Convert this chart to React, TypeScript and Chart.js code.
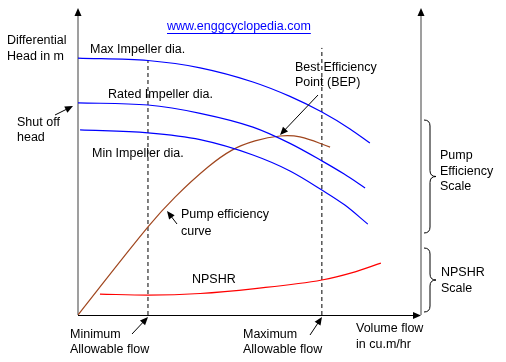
import React, { useEffect, useRef } from "react";
import { Chart, registerables } from "chart.js";

Chart.register(...registerables);

// Flow axis in % of scale (0..100), head / efficiency / NPSHR in % of scale (0..100)
const maxFlow = [0, 20.4, 35.6, 51, 61.8, 71.1, 79.3, 85.1];
const maxHead = [83.7, 82.9, 80.5, 75.9, 71.2, 66.1, 60.6, 56.0];

const ratedFlow = [0, 20.4, 35.6, 51, 61.8, 71.1, 77.6, 83.7];
const ratedHead = [69.1, 68.4, 65.7, 61.2, 55.9, 50.2, 45.9, 41.4];

const minFlow = [0.6, 20.4, 35.6, 51, 61.8, 71.1, 77.8, 84.5];
const minHead = [60.3, 59.3, 57.1, 52.1, 46.9, 40.7, 35.8, 29.6];

const effFlow = [0, 20.4, 28.3, 37.9, 44.9, 51.6, 58.9, 64.7, 73.5];
const effValue = [0, 28.7, 38.4, 48.2, 53.7, 56.7, 58.3, 58.0, 54.7];

const npshFlow = [6.4, 20.4, 35.6, 51.6, 71.1, 80, 88.3];
const npshValue = [6.8, 6.5, 7.0, 8.6, 11.4, 13.8, 16.9];

const minAllowFlow = 20.4;
const minAllowTop = 83;
const maxAllowFlow = 71.1;
const maxAllowTop = 87;

const FONT = '12.5px "Liberation Sans", Arial, sans-serif';

const zip = (xs: number[], ys: number[]) => xs.map((x, i) => ({ x, y: ys[i] }));

const texts: [string, number, number][] = [
  ["Differential", 7, 41],
  ["Head in m", 7, 57],
  ["Max Impeller dia.", 90, 50],
  ["Rated Impeller dia.", 108, 95],
  ["Min Impeller dia.", 92, 154],
  ["Shut off", 17, 123],
  ["head", 17, 138],
  ["Best Efficiency", 295, 68],
  ["Point (BEP)", 295, 83],
  ["Pump", 440, 156],
  ["Efficiency", 440, 172],
  ["Scale", 440, 187],
  ["Pump efficiency", 181, 215],
  ["curve", 181, 232],
  ["NPSHR", 192, 280],
  ["NPSHR", 441, 273],
  ["Scale", 441, 289],
  ["Minimum", 70, 335],
  ["Allowable flow", 70, 350],
  ["Maximum", 243, 335],
  ["Allowable flow", 243, 350],
  ["Volume flow", 356, 329],
  ["in cu.m/hr", 356, 345],
];

const arrows: [number, number, number, number][] = [
  [55, 115, 73, 106],
  [318, 95, 280, 135],
  [177, 224, 167, 211],
  [132, 334, 148, 317],
  [310, 335, 322, 317],
];

function arrowHead(ctx: CanvasRenderingContext2D, x1: number, y1: number, x2: number, y2: number, len: number, half: number) {
  const a = Math.atan2(y2 - y1, x2 - x1);
  const c = Math.cos(a), s = Math.sin(a);
  const bx = x2 - c * len, by = y2 - s * len;
  ctx.beginPath();
  ctx.moveTo(x2, y2);
  ctx.lineTo(bx - s * half, by + c * half);
  ctx.lineTo(bx + s * half, by - c * half);
  ctx.closePath();
  ctx.fill();
}

function brace(ctx: CanvasRenderingContext2D, x: number, top: number, bottom: number) {
  const mid = (top + bottom) / 2;
  const vx = x + 6;
  const tip = x + 12;
  ctx.beginPath();
  ctx.moveTo(x, top);
  ctx.quadraticCurveTo(vx, top, vx, top + 6);
  ctx.lineTo(vx, mid - 6);
  ctx.quadraticCurveTo(vx, mid, tip, mid);
  ctx.quadraticCurveTo(vx, mid, vx, mid + 6);
  ctx.lineTo(vx, bottom - 6);
  ctx.quadraticCurveTo(vx, bottom, x, bottom);
  ctx.stroke();
}

const decor = {
  id: "decor",
  beforeDatasetsDraw(chart: any) {
    const ctx: CanvasRenderingContext2D = chart.ctx;
    const { left, right, top, bottom } = chart.chartArea;
    ctx.save();
    ctx.strokeStyle = "#808080";
    ctx.lineWidth = 1.5;
    ctx.beginPath();
    ctx.moveTo(left, bottom);
    ctx.lineTo(left, top + 6);
    ctx.moveTo(right, bottom);
    ctx.lineTo(right, top + 6);
    ctx.stroke();
    ctx.restore();
  },
  afterDatasetsDraw(chart: any) {
    const ctx: CanvasRenderingContext2D = chart.ctx;
    const { left, right, top, bottom } = chart.chartArea;
    ctx.save();
    ctx.strokeStyle = "#000";
    ctx.fillStyle = "#000";
    ctx.lineWidth = 1;
    ctx.beginPath();
    ctx.moveTo(left, bottom + 0.5);
    ctx.lineTo(right - 6, bottom + 0.5);
    ctx.stroke();
    arrowHead(ctx, left, bottom + 0.5, right, bottom + 0.5, 8, 3.5);
    arrowHead(ctx, left, bottom, left, top, 8, 3.5);
    arrowHead(ctx, right, bottom, right, top, 8, 3.5);

    for (const [x1, y1, x2, y2] of arrows) {
      const a = Math.atan2(y2 - y1, x2 - x1);
      ctx.beginPath();
      ctx.moveTo(x1, y1);
      ctx.lineTo(x2 - Math.cos(a) * 5, y2 - Math.sin(a) * 5);
      ctx.stroke();
      arrowHead(ctx, x1, y1, x2, y2, 8, 3.5);
    }

    brace(ctx, 424, 120, 233);
    brace(ctx, 424, 248, 312);

    ctx.font = FONT;
    ctx.textBaseline = "middle";
    ctx.textAlign = "left";
    for (const [t, x, y] of texts) ctx.fillText(t, x, y);

    ctx.fillStyle = "#0000ff";
    ctx.strokeStyle = "#0000ff";
    const url = "www.enggcyclopedia.com";
    ctx.fillText(url, 167, 27);
    const w = ctx.measureText(url).width;
    ctx.beginPath();
    ctx.moveTo(167, 33.5);
    ctx.lineTo(167 + w, 33.5);
    ctx.stroke();
    ctx.restore();
  },
};

export default function App() {
  const ref = useRef<HTMLCanvasElement>(null);
  useEffect(() => {
    if (!ref.current) return;
    const line = (data: { x: number; y: number }[], color: string, extra: any = {}) => ({
      data,
      borderColor: color,
      borderWidth: 1.2,
      pointRadius: 0,
      fill: false,
      cubicInterpolationMode: "monotone",
      ...extra,
    });
    const chart = new Chart(ref.current, {
      type: "line",
      data: {
        datasets: [
          line(zip(maxFlow, maxHead), "#0000ff"),
          line(zip(ratedFlow, ratedHead), "#0000ff"),
          line(zip(minFlow, minHead), "#0000ff"),
          line(zip(effFlow, effValue), "#a0461e", { cubicInterpolationMode: "default", tension: 0.4 }),
          line(zip(npshFlow, npshValue), "#ff0000"),
          line(
            [
              { x: minAllowFlow, y: 0 },
              { x: minAllowFlow, y: minAllowTop },
            ],
            "#000000",
            { borderDash: [4, 3], borderWidth: 1, cubicInterpolationMode: "default", tension: 0 }
          ),
          line(
            [
              { x: maxAllowFlow, y: 0 },
              { x: maxAllowFlow, y: maxAllowTop },
            ],
            "#000000",
            { borderDash: [4, 3], borderWidth: 1, cubicInterpolationMode: "default", tension: 0 }
          ),
        ] as any,
      },
      options: {
        animation: false,
        responsive: true,
        maintainAspectRatio: false,
        layout: { padding: { left: 78, right: 85, top: 8, bottom: 47 } },
        scales: {
          x: { type: "linear", min: 0, max: 100, display: false },
          y: { type: "linear", min: 0, max: 100, display: false },
        },
        plugins: { legend: { display: false }, tooltip: { enabled: false } },
      },
      plugins: [decor],
    });
    return () => chart.destroy();
  }, []);
  return (
    <div style={{ position: "fixed", left: 0, top: 0, width: 506, height: 362, background: "#fff" }}>
      <canvas ref={ref} />
    </div>
  );
}
